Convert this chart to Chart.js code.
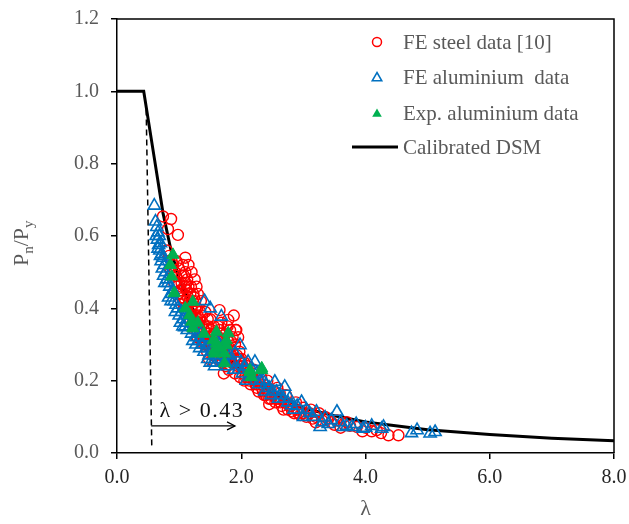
<!DOCTYPE html>
<html>
<head>
<meta charset="utf-8">
<script src="https://cdn.jsdelivr.net/npm/chart.js@4.4.1/dist/chart.umd.min.js"></script>
<style>
  html, body { margin: 0; padding: 0; background: #fff; }
  #wrap { width: 629px; height: 524px; }
</style>
</head>
<body>
<div id="wrap"><canvas id="dsmChart"></canvas></div>
<script>
// data: [lambda, Pn/Py]
const feSteel = [
  [0.74,0.654],[0.87,0.647],[0.82,0.619],[0.98,0.603],[0.80,0.560],[0.84,0.545],[0.88,0.530],[0.86,0.510],
  [0.90,0.520],[0.93,0.500],[0.95,0.490],[0.92,0.470],[0.97,0.460],[1.00,0.470],[1.02,0.450],[0.99,0.440],
  [1.05,0.440],[1.03,0.420],[1.07,0.430],[1.10,0.420],[1.08,0.400],[1.12,0.390],[1.06,0.520],[1.10,0.500],
  [1.13,0.480],[1.15,0.460],[1.08,0.490],[1.18,0.440],[1.15,0.410],[1.20,0.400],[1.22,0.420],[1.25,0.380],
  [1.18,0.370],[1.22,0.360],[1.28,0.360],[1.30,0.380],[1.27,0.340],[1.32,0.350],[1.35,0.330],[1.33,0.370],
  [1.38,0.360],[1.40,0.340],[1.36,0.310],[1.42,0.320],[1.45,0.330],[1.40,0.300],[1.48,0.310],[1.50,0.290],
  [1.45,0.280],[1.52,0.300],[1.55,0.320],[1.58,0.330],[1.55,0.270],[1.60,0.280],[1.62,0.300],[1.65,0.340],
  [1.68,0.360],[1.62,0.260],[1.68,0.270],[1.70,0.290],[1.72,0.310],[1.75,0.330],[1.78,0.350],[1.82,0.340],
  [1.88,0.380],[1.92,0.340],[1.95,0.320],[1.90,0.300],[1.85,0.280],[1.80,0.260],[1.75,0.240],[1.72,0.220],
  [1.80,0.230],[1.85,0.250],[1.90,0.220],[1.95,0.240],[2.00,0.260],[2.02,0.220],[1.98,0.210],[2.05,0.200],
  [2.08,0.230],[2.12,0.210],[2.15,0.190],[2.18,0.220],[2.22,0.200],[2.25,0.180],[2.30,0.190],[2.28,0.170],
  [2.35,0.170],[2.40,0.160],[2.38,0.180],[2.45,0.150],[2.50,0.160],[2.55,0.140],[2.52,0.170],[2.60,0.150],
  [2.65,0.130],[2.70,0.140],[2.75,0.120],[2.80,0.130],[2.85,0.110],[2.90,0.120],[2.95,0.105],[3.00,0.110],
  [3.05,0.100],[3.10,0.110],[3.15,0.095],[3.20,0.100],[3.30,0.090],[3.35,0.100],[3.45,0.085],[3.55,0.090],
  [3.65,0.080],[3.75,0.075],[3.86,0.072],[4.00,0.070],[4.18,0.063],[4.37,0.049],[4.53,0.049],
  [1.10,0.540],[1.15,0.520],[1.20,0.500],[1.25,0.480],[1.28,0.460],[1.30,0.440],[1.65,0.395],[1.79,0.368],
  [1.91,0.340],[1.35,0.420],[1.42,0.390],[1.50,0.370],[1.12,0.450],[1.24,0.430],[1.26,0.400],[1.34,0.390],
  [1.47,0.350],[1.52,0.340],[1.57,0.300],[1.64,0.320],[1.70,0.250],[1.77,0.290],[1.83,0.310],[1.97,0.280],
  [2.05,0.250],[2.10,0.240],[2.20,0.230],[2.32,0.210],[2.42,0.200],[2.58,0.180],[2.62,0.165],[2.72,0.160],
  [2.88,0.140],[3.00,0.125],[3.12,0.120],[3.25,0.110],[3.40,0.095],[3.60,0.070],[3.70,0.085],[3.95,0.060],
  [4.10,0.060],[4.25,0.055],[1.30,0.320],[1.48,0.260],[2.45,0.135],[2.68,0.120],[2.82,0.115],[3.20,0.085],
  [3.50,0.078],
  [0.96,0.530],[1.00,0.510],[1.04,0.490],[1.04,0.470],[1.09,0.460],[1.11,0.470],[1.14,0.430],[1.17,0.420],
  [1.19,0.460],[1.21,0.380],[1.23,0.440],[1.26,0.420],[1.29,0.400],[1.31,0.360],[1.34,0.340],[1.37,0.380],
  [1.39,0.320],[1.43,0.350],[1.44,0.300],[1.46,0.370],[1.49,0.330],[1.51,0.310],[1.53,0.280],[1.56,0.350],
  [1.59,0.290],[1.61,0.320],[1.63,0.350],[1.66,0.280],[1.67,0.310],[1.69,0.330],[1.71,0.270],[1.74,0.300],
  [1.76,0.260],[1.78,0.310],[1.81,0.290],[1.84,0.270],[1.86,0.320],[1.89,0.260],[1.93,0.270],[1.96,0.260],
  [1.99,0.240],[2.03,0.240],[2.07,0.210],[2.13,0.200],[2.17,0.210],[2.23,0.190],[2.27,0.200],[2.33,0.180],
  [2.37,0.160],[2.43,0.170],[2.48,0.150],[2.56,0.150],[2.63,0.140],[2.77,0.130],[2.92,0.110]
];
const feAluminium = [
  [0.60,0.684],[0.62,0.640],[0.64,0.625],[0.66,0.610],[0.65,0.590],[0.68,0.600],[0.67,0.575],[0.70,0.580],
  [0.69,0.560],[0.72,0.550],[0.71,0.530],[0.74,0.540],[0.76,0.520],[0.73,0.510],[0.78,0.500],[0.80,0.480],
  [0.82,0.470],[0.85,0.460],[0.88,0.440],[0.90,0.450],[0.92,0.420],[0.95,0.410],[0.98,0.400],[1.00,0.380],
  [1.04,0.390],[1.09,0.348],[1.07,0.370],[1.12,0.360],[1.15,0.380],[1.18,0.350],[1.20,0.330],[1.25,0.340],
  [1.28,0.320],[1.32,0.310],[1.35,0.330],[1.38,0.300],[1.42,0.320],[1.45,0.290],[1.48,0.270],[1.52,0.280],
  [1.55,0.250],[1.58,0.260],[1.62,0.280],[1.65,0.300],[1.70,0.270],[1.72,0.250],[1.78,0.240],[1.82,0.270],
  [1.85,0.250],[1.90,0.276],[1.98,0.298],[1.95,0.230],[2.02,0.220],[2.05,0.240],[2.11,0.252],[2.22,0.252],
  [2.15,0.210],[2.25,0.220],[2.30,0.200],[2.35,0.201],[2.40,0.190],[2.45,0.180],[2.54,0.197],[2.50,0.170],
  [2.57,0.169],[2.62,0.160],[2.70,0.183],[2.68,0.150],[2.75,0.140],[2.78,0.151],[2.81,0.132],[2.90,0.130],
  [2.97,0.141],[3.05,0.120],[3.10,0.110],[3.21,0.114],[3.27,0.072],[3.30,0.085],[3.35,0.098],[3.45,0.091],
  [3.54,0.114],[3.60,0.085],[3.64,0.072],[3.78,0.072],[3.85,0.080],[3.96,0.067],[4.10,0.075],[4.26,0.067],
  [4.29,0.072],[4.74,0.055],[4.83,0.063],[5.04,0.054],[5.12,0.058],[1.41,0.420],[1.68,0.377],[1.50,0.400],
  [0.63,0.600],[0.66,0.565],[0.70,0.545],[0.75,0.490],[0.77,0.470],[0.83,0.430],[0.87,0.420],[0.94,0.390],
  [1.02,0.360],[1.06,0.350],[1.13,0.340],[1.22,0.310],[1.27,0.300],[1.33,0.290],[1.40,0.280],[1.46,0.260],
  [1.50,0.250],[1.57,0.240],[1.60,0.310],[1.75,0.280],[1.88,0.230],[2.00,0.250],[2.08,0.200],[2.18,0.230],
  [2.28,0.190],[2.38,0.170],[2.48,0.160],[2.60,0.150],[2.85,0.120],[3.00,0.100],[3.15,0.100],[3.40,0.080],
  [3.70,0.075],[4.00,0.070]
];
const expAluminium = [
  [0.90,0.548],[0.88,0.488],[0.92,0.442],[0.86,0.520],[1.22,0.418],[1.17,0.381],[1.20,0.363],[1.22,0.345],
  [1.55,0.312],[1.60,0.335],[1.79,0.331],[1.76,0.312],[1.60,0.303],[1.57,0.284],[1.57,0.275],[1.76,0.298],
  [1.73,0.275],[1.73,0.248],[2.14,0.229],[2.33,0.234],[2.16,0.210],[2.14,0.224],[2.33,0.229],[1.10,0.400],
  [1.30,0.360],[1.40,0.330],[1.65,0.290]
];
const dsmLambda = [0, 0.43, 0.60, 0.74, 0.87, 1.0, 1.1, 1.2, 1.3, 1.5, 1.75, 2.0, 2.25, 2.5, 3.0, 3.5, 4.0, 5.0, 6.0, 7.0, 8.0];
const dsmRatio  = [1.0, 1.0, 0.816, 0.664, 0.560, 0.480, 0.440, 0.405, 0.375, 0.318, 0.268, 0.228, 0.195, 0.166, 0.124, 0.103, 0.086, 0.064, 0.051, 0.041, 0.034];
const limitLambda = [0.47, 0.56];
const limitRatio  = [0.95, 0.015];
const arrowLambda = [0.55, 1.90];
const arrowRatio  = [0.075, 0.075];
const limitLabel = 'λ > 0.43';
const xTicks = [0, 2, 4, 6, 8];
const yTicks = [0, 0.2, 0.4, 0.6, 0.8, 1.0, 1.2];

const SERIF = "'Liberation Serif', 'Times New Roman', serif";
const RED = '#FF0000', BLUE = '#0070C0', GREEN = '#00B050';

const pts = arr => arr.map(p => ({ x: p[0], y: p[1] }));
const zipPts = (xs, ys) => xs.map((x, i) => ({ x: x, y: ys[i] }));

function markerPath(ctx, style, x, y, r) {
    ctx.beginPath();
    if (style === 'circle') {
        ctx.arc(x, y, r, 0, Math.PI * 2);
    } else {
        ctx.moveTo(x, y - r);
        ctx.lineTo(x + r * 0.87, y + r * 0.5);
        ctx.lineTo(x - r * 0.87, y + r * 0.5);
        ctx.closePath();
    }
}

// frame, titles, legend, arrow and label
const decor = {
    id: 'decor',
    afterDraw(chart) {
        const ctx = chart.ctx;
        const a = chart.chartArea;
        const xs = chart.scales.x, ys = chart.scales.y;
        ctx.save();

        ctx.strokeStyle = '#000';
        ctx.lineWidth = 1.5;
        ctx.beginPath();
        ctx.moveTo(a.left, a.top);
        ctx.lineTo(a.right, a.top);
        ctx.lineTo(a.right, a.bottom);
        ctx.stroke();

        // arrow head
        const ex = xs.getPixelForValue(arrowLambda[1]);
        const ey = ys.getPixelForValue(arrowRatio[1]);
        ctx.lineWidth = 1.2;
        ctx.beginPath();
        ctx.moveTo(ex - 8, ey - 4);
        ctx.lineTo(ex, ey);
        ctx.lineTo(ex - 8, ey + 4);
        ctx.stroke();

        ctx.fillStyle = '#111';
        ctx.font = '22px ' + SERIF;
        ctx.letterSpacing = '1.5px';
        ctx.textAlign = 'left';
        ctx.textBaseline = 'alphabetic';
        ctx.fillText(limitLabel, xs.getPixelForValue(0.685), ys.getPixelForValue(0.100));
        ctx.letterSpacing = '0px';

        // axis titles
        ctx.fillStyle = '#595959';
        ctx.font = '22px ' + SERIF;
        ctx.textAlign = 'center';
        ctx.textBaseline = 'middle';
        ctx.fillText('λ', (a.left + a.right) / 2, 509);

        ctx.translate(28, 266);
        ctx.rotate(-Math.PI / 2);
        ctx.textAlign = 'left';
        ctx.textBaseline = 'alphabetic';
        let cx = 0;
        const parts = [['P', 22, 0], ['n', 15, 5], ['/', 22, 0], ['P', 22, 0], ['y', 15, 5]];
        parts.forEach(p => {
            ctx.font = p[1] + 'px ' + SERIF;
            ctx.fillText(p[0], cx, p[2]);
            cx += ctx.measureText(p[0]).width;
        });
        ctx.setTransform(1, 0, 0, 1, 0, 0);

        // legend
        const items = [
            { label: 'FE steel data [10]', style: 'circle', color: RED, fill: false, r: 4.5 },
            { label: 'FE aluminium  data', style: 'triangle', color: BLUE, fill: false, r: 5.5 },
            { label: 'Exp. aluminium data', style: 'triangle', color: GREEN, fill: true, r: 5.5 },
            { label: 'Calibrated DSM', style: 'line', color: '#000' }
        ];
        const rowY = [42, 77, 113, 147];
        items.forEach((it, i) => {
            const y = rowY[i];
            if (it.style === 'line') {
                ctx.strokeStyle = '#000';
                ctx.lineWidth = 3;
                ctx.beginPath();
                ctx.moveTo(352, y);
                ctx.lineTo(398, y);
                ctx.stroke();
            } else {
                markerPath(ctx, it.style, 377, y + (it.style === 'triangle' ? 1 : 0), it.r);
                if (it.fill) {
                    ctx.fillStyle = it.color;
                    ctx.fill();
                } else {
                    ctx.strokeStyle = it.color;
                    ctx.lineWidth = 1.5;
                    ctx.stroke();
                }
            }
            ctx.fillStyle = '#595959';
            ctx.font = '21px ' + SERIF;
            ctx.textAlign = 'left';
            ctx.textBaseline = 'middle';
            ctx.fillText(it.label, 403, y + 1);
        });
        ctx.restore();
    }
};

const canvas = document.getElementById('dsmChart');
new Chart(canvas.getContext('2d'), {
    type: 'scatter',
    data: {
        datasets: [
            {
                label: 'Exp. aluminium data',
                data: pts(expAluminium),
                pointStyle: 'triangle',
                pointRadius: 7,
                backgroundColor: GREEN,
                borderColor: GREEN,
                borderWidth: 1,
                order: 0
            },
            {
                label: 'FE aluminium  data',
                data: pts(feAluminium),
                pointStyle: 'triangle',
                pointRadius: 7,
                backgroundColor: 'rgba(0,0,0,0)',
                borderColor: BLUE,
                borderWidth: 1.6,
                order: 1
            },
            {
                label: 'FE steel data [10]',
                data: pts(feSteel),
                pointStyle: 'circle',
                pointRadius: 5.5,
                backgroundColor: 'rgba(0,0,0,0)',
                borderColor: RED,
                borderWidth: 1.4,
                order: 2
            },
            {
                label: 'Calibrated DSM',
                data: zipPts(dsmLambda, dsmRatio),
                showLine: true,
                borderColor: '#000',
                borderWidth: 3,
                pointRadius: 0,
                tension: 0,
                order: 3
            },
            {
                label: 'limit',
                data: zipPts(limitLambda, limitRatio),
                showLine: true,
                borderColor: '#000',
                borderWidth: 1.5,
                borderDash: [6, 4],
                pointRadius: 0,
                order: 4
            },
            {
                label: 'arrow',
                data: zipPts(arrowLambda, arrowRatio),
                showLine: true,
                borderColor: '#000',
                borderWidth: 1.2,
                pointRadius: 0,
                order: 4
            }
        ]
    },
    options: {
        responsive: true,
        maintainAspectRatio: false,
        animation: false,
        events: [],
        layout: { padding: { top: 19, right: 15, bottom: 0, left: 0 } },
        plugins: {
            legend: { display: false },
            tooltip: { enabled: false }
        },
        scales: {
            x: {
                type: 'linear',
                min: 0,
                max: 8,
                afterFit(s) { s.height = 71; s.paddingLeft = 0; s.paddingRight = 0; },
                afterBuildTicks(s) { s.ticks = xTicks.map(v => ({ value: v })); },
                ticks: {
                    callback: v => v.toFixed(1),
                    color: '#262626',
                    font: { family: SERIF, size: 20 },
                    padding: 7,
                    maxRotation: 0
                },
                grid: { drawOnChartArea: false, drawTicks: true, tickLength: 6, color: '#000', lineWidth: 1.5 },
                border: { color: '#000', width: 1.5 }
            },
            y: {
                type: 'linear',
                min: 0,
                max: 1.2,
                afterFit(s) { s.width = 117; s.paddingTop = 0; s.paddingBottom = 0; },
                afterBuildTicks(s) { s.ticks = yTicks.map(v => ({ value: v })); },
                ticks: {
                    callback: v => v.toFixed(1),
                    color: '#595959',
                    font: { family: SERIF, size: 20 },
                    padding: 12
                },
                grid: { drawOnChartArea: false, drawTicks: true, tickLength: 6, color: '#000', lineWidth: 1.5 },
                border: { color: '#000', width: 1.5 }
            }
        }
    },
    plugins: [decor]
});
</script>
</body>
</html>
